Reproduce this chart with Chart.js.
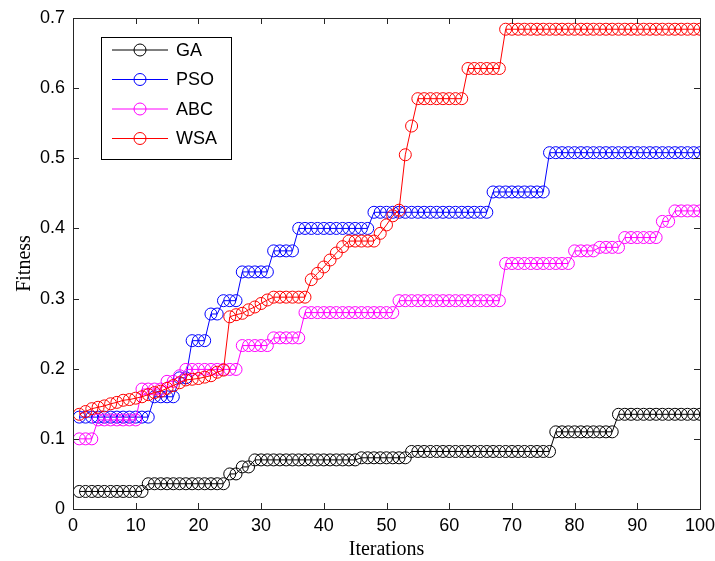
<!DOCTYPE html>
<html>
<head>
<meta charset="utf-8">
<script src="https://cdn.jsdelivr.net/npm/chart.js@4/dist/chart.umd.min.js"></script>
<style>
  body { margin: 0; background: #fff; }
  #chart { display: block; }
</style>
</head>
<body>
<canvas id="chart" width="715" height="561"></canvas>
<script>
// iterations 1..100 on the x axis
const iterations = Array.from({ length: 100 }, (_, i) => i + 1);

const seriesNames = ["GA", "PSO", "ABC", "WSA"];
const seriesColors = ["#000000", "#0000ff", "#ff00ff", "#ff0000"];

const gaFitness = [
  0.025, 0.025, 0.025, 0.025, 0.025, 0.025, 0.025, 0.025, 0.025, 0.025,
  0.025, 0.036, 0.036, 0.036, 0.036, 0.036, 0.036, 0.036, 0.036, 0.036,
  0.036, 0.036, 0.036, 0.036, 0.05, 0.05, 0.06, 0.06, 0.07, 0.07,
  0.07, 0.07, 0.07, 0.07, 0.07, 0.07, 0.07, 0.07, 0.07, 0.07,
  0.07, 0.07, 0.07, 0.07, 0.07, 0.073, 0.073, 0.073, 0.073, 0.073,
  0.073, 0.073, 0.073, 0.082, 0.082, 0.082, 0.082, 0.082, 0.082, 0.082,
  0.082, 0.082, 0.082, 0.082, 0.082, 0.082, 0.082, 0.082, 0.082, 0.082,
  0.082, 0.082, 0.082, 0.082, 0.082, 0.082, 0.11, 0.11, 0.11, 0.11,
  0.11, 0.11, 0.11, 0.11, 0.11, 0.11, 0.135, 0.135, 0.135, 0.135,
  0.135, 0.135, 0.135, 0.135, 0.135, 0.135, 0.135, 0.135, 0.135, 0.135
];

const psoFitness = [
  0.131, 0.131, 0.131, 0.131, 0.131, 0.131, 0.131, 0.131, 0.131, 0.131,
  0.131, 0.131, 0.16, 0.16, 0.16, 0.16, 0.187, 0.187, 0.24, 0.24,
  0.24, 0.278, 0.278, 0.297, 0.297, 0.297, 0.338, 0.338, 0.338, 0.338,
  0.338, 0.368, 0.368, 0.368, 0.368, 0.4, 0.4, 0.4, 0.4, 0.4,
  0.4, 0.4, 0.4, 0.4, 0.4, 0.4, 0.4, 0.423, 0.423, 0.423,
  0.423, 0.423, 0.423, 0.423, 0.423, 0.423, 0.423, 0.423, 0.423, 0.423,
  0.423, 0.423, 0.423, 0.423, 0.423, 0.423, 0.452, 0.452, 0.452, 0.452,
  0.452, 0.452, 0.452, 0.452, 0.452, 0.508, 0.508, 0.508, 0.508, 0.508,
  0.508, 0.508, 0.508, 0.508, 0.508, 0.508, 0.508, 0.508, 0.508, 0.508,
  0.508, 0.508, 0.508, 0.508, 0.508, 0.508, 0.508, 0.508, 0.508, 0.508
];

const abcFitness = [
  0.1, 0.1, 0.1, 0.127, 0.127, 0.127, 0.127, 0.127, 0.127, 0.127,
  0.171, 0.171, 0.171, 0.171, 0.182, 0.182, 0.19, 0.199, 0.199, 0.199,
  0.199, 0.199, 0.199, 0.199, 0.199, 0.199, 0.233, 0.233, 0.233, 0.233,
  0.233, 0.244, 0.244, 0.244, 0.244, 0.244, 0.28, 0.28, 0.28, 0.28,
  0.28, 0.28, 0.28, 0.28, 0.28, 0.28, 0.28, 0.28, 0.28, 0.28,
  0.28, 0.297, 0.297, 0.297, 0.297, 0.297, 0.297, 0.297, 0.297, 0.297,
  0.297, 0.297, 0.297, 0.297, 0.297, 0.297, 0.297, 0.297, 0.35, 0.35,
  0.35, 0.35, 0.35, 0.35, 0.35, 0.35, 0.35, 0.35, 0.35, 0.368,
  0.368, 0.368, 0.368, 0.373, 0.373, 0.373, 0.373, 0.387, 0.387, 0.387,
  0.387, 0.387, 0.387, 0.41, 0.41, 0.425, 0.425, 0.425, 0.425, 0.425
];

const wsaFitness = [
  0.135, 0.139, 0.143, 0.145, 0.147, 0.15, 0.152, 0.155, 0.156, 0.158,
  0.16, 0.163, 0.166, 0.168, 0.172, 0.176, 0.18, 0.184, 0.185, 0.186,
  0.188, 0.19, 0.195, 0.198, 0.274, 0.277, 0.279, 0.284, 0.288, 0.293,
  0.298, 0.302, 0.302, 0.302, 0.302, 0.302, 0.302, 0.327, 0.336, 0.345,
  0.355, 0.365, 0.374, 0.382, 0.382, 0.382, 0.382, 0.382, 0.393, 0.405,
  0.418, 0.426, 0.505, 0.546, 0.585, 0.585, 0.585, 0.585, 0.585, 0.585,
  0.585, 0.585, 0.628, 0.628, 0.628, 0.628, 0.628, 0.628, 0.684, 0.684,
  0.684, 0.684, 0.684, 0.684, 0.684, 0.684, 0.684, 0.684, 0.684, 0.684,
  0.684, 0.684, 0.684, 0.684, 0.684, 0.684, 0.684, 0.684, 0.684, 0.684,
  0.684, 0.684, 0.684, 0.684, 0.684, 0.684, 0.684, 0.684, 0.684, 0.684
];

const xTicks = [0, 10, 20, 30, 40, 50, 60, 70, 80, 90, 100];
const yTicks = [0, 0.1, 0.2, 0.3, 0.4, 0.5, 0.6, 0.7];

const allSeries = [gaFitness, psoFitness, abcFitness, wsaFitness];

const tickFont = { family: "'Liberation Sans', Arial, sans-serif", size: 18 };
const titleFont = { family: "'Liberation Serif', 'Times New Roman', serif", size: 20, lineHeight: 1.1 };

// MATLAB style box with inward ticks on all four sides
const framePlugin = {
  id: "frame",
  afterDatasetsDraw(chart) {
    const { ctx, chartArea: a, scales } = chart;
    ctx.save();
    ctx.strokeStyle = "#262626";
    ctx.lineWidth = 1;
    ctx.strokeRect(a.left + 0.5, a.top + 0.5, a.right - a.left, a.bottom - a.top);
    const len = 6;
    ctx.beginPath();
    xTicks.forEach((v) => {
      const x = Math.round(scales.x.getPixelForValue(v)) + 0.5;
      ctx.moveTo(x, a.bottom); ctx.lineTo(x, a.bottom - len);
      ctx.moveTo(x, a.top); ctx.lineTo(x, a.top + len);
    });
    yTicks.forEach((v) => {
      const y = Math.round(scales.y.getPixelForValue(v)) + 0.5;
      ctx.moveTo(a.left, y); ctx.lineTo(a.left + len, y);
      ctx.moveTo(a.right, y); ctx.lineTo(a.right - len, y);
    });
    ctx.stroke();
    ctx.restore();
  },
};

// legend box drawn inside the axes, top left
const boxLegendPlugin = {
  id: "boxLegend",
  afterDraw(chart) {
    const ctx = chart.ctx;
    const left = 101, top = 37, w = 130, h = 122;
    ctx.save();
    ctx.fillStyle = "#fff";
    ctx.fillRect(left, top, w, h);
    ctx.strokeStyle = "#000";
    ctx.lineWidth = 1;
    ctx.strokeRect(left + 0.5, top + 0.5, w, h);
    ctx.font = "18px 'Liberation Sans', Arial, sans-serif";
    ctx.textBaseline = "middle";
    chart.data.datasets.forEach((ds, i) => {
      const y = top + 13 + i * 29.5;
      ctx.strokeStyle = ds.borderColor;
      ctx.beginPath();
      ctx.moveTo(112, y); ctx.lineTo(168, y);
      ctx.stroke();
      ctx.beginPath();
      ctx.arc(140, y, 6, 0, Math.PI * 2);
      ctx.stroke();
      ctx.fillStyle = "#000";
      ctx.fillText(ds.label, 176, y + 1);
    });
    ctx.restore();
  },
};

const datasets = seriesNames.map((name, i) => ({
  label: name,
  data: iterations.map((it, j) => ({ x: it, y: allSeries[i][j] })),
  borderColor: seriesColors[i],
  backgroundColor: "rgba(0,0,0,0)",
  pointBackgroundColor: "rgba(0,0,0,0)",
  pointBorderColor: seriesColors[i],
  pointStyle: "circle",
  pointRadius: 6,
  pointBorderWidth: 1,
  borderWidth: 1,
  tension: 0,
  order: seriesNames.length - i,
}));

new Chart(document.getElementById("chart"), {
  type: "line",
  data: { datasets: datasets },
  plugins: [framePlugin, boxLegendPlugin],
  options: {
    responsive: false,
    animation: false,
    layout: { padding: { left: 0, top: 18, right: 15, bottom: 0 } },
    plugins: { legend: { display: false }, tooltip: { enabled: false } },
    scales: {
      x: {
        type: "linear",
        min: 0,
        max: 100,
        afterBuildTicks: (s) => { s.ticks = xTicks.map((v) => ({ value: v })); },
        afterFit: (s) => { s.height = 52; s.paddingLeft = 0; s.paddingRight = 0; },
        grid: { display: false, drawTicks: false },
        border: { display: false },
        ticks: { color: "#000", font: tickFont, padding: 6, maxRotation: 0 },
        title: { display: true, text: "Iterations", color: "#000", font: titleFont, padding: { top: 0, bottom: 0 } },
      },
      y: {
        type: "linear",
        min: 0,
        max: 0.7,
        afterBuildTicks: (s) => { s.ticks = yTicks.map((v) => ({ value: v })); },
        afterFit: (s) => { s.width = 73; s.paddingTop = 0; s.paddingBottom = 0; },
        grid: { display: false, drawTicks: false },
        border: { display: false },
        ticks: {
          color: "#000",
          font: tickFont,
          padding: 8,
          callback: (v) => (v === 0 ? "0" : v.toFixed(1)),
        },
        title: { display: true, text: "Fitness", color: "#000", font: titleFont, padding: { top: 14, bottom: 0 } },
      },
    },
  },
});
</script>
</body>
</html>
